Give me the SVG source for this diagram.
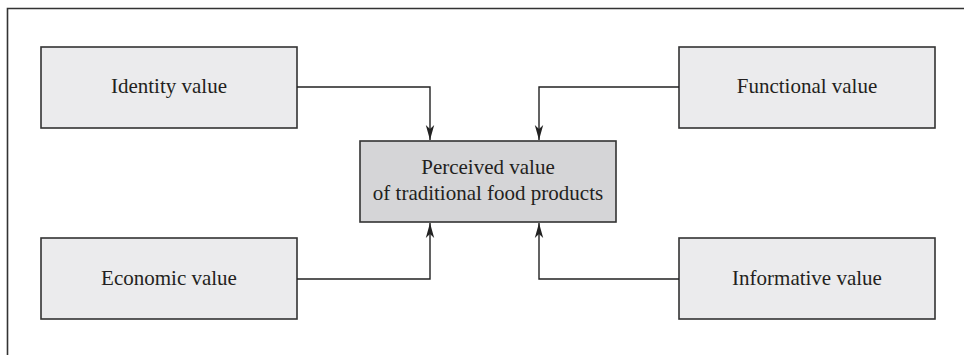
<svg xmlns="http://www.w3.org/2000/svg" width="964" height="355" viewBox="0 0 964 355">
<style>
.box{fill:#ebebed;stroke:#333;stroke-width:1.6}
.main{fill:#d5d5d7;stroke:#333;stroke-width:1.6}
.t{font-family:"Liberation Serif","Times New Roman",serif;font-size:21px;fill:#231f20;text-anchor:middle}
.c{fill:none;stroke:#222;stroke-width:1.4}
.frame{fill:none;stroke:#333;stroke-width:1.6}
</style>
<defs>
<marker id="ah" markerUnits="userSpaceOnUse" markerWidth="20" markerHeight="12" viewBox="-16 -6 18 12" refX="0" refY="0" orient="auto">
<path d="M0,0 L-15,-4.2 L-11,0 L-15,4.2 Z" fill="#222"/>
</marker>
</defs>
<path class="frame" d="M7.5,355 V8.5 H964"/>
<g id="identity"><rect class="box" x="41" y="47" width="256" height="81"/><text class="t" x="169" y="93">Identity value</text></g>
<g id="functional"><rect class="box" x="679" y="47" width="256" height="81"/><text class="t" x="807" y="93">Functional value</text></g>
<g id="economic"><rect class="box" x="41" y="238" width="256" height="81"/><text class="t" x="169" y="285">Economic value</text></g>
<g id="informative"><rect class="box" x="679" y="238" width="256" height="81"/><text class="t" x="807" y="285">Informative value</text></g>
<g id="perceived"><rect class="main" x="360" y="141" width="256" height="81"/><text class="t" x="488" y="174">Perceived value</text><text class="t" x="488" y="200">of traditional food products</text></g>
<g id="connectors">
<path class="c" d="M297,87 H430 V140" marker-end="url(#ah)"/>
<path class="c" d="M679,87 H539 V140" marker-end="url(#ah)"/>
<path class="c" d="M297,279 H430 V223" marker-end="url(#ah)"/>
<path class="c" d="M679,279 H539 V223" marker-end="url(#ah)"/>
</g>
</svg>
